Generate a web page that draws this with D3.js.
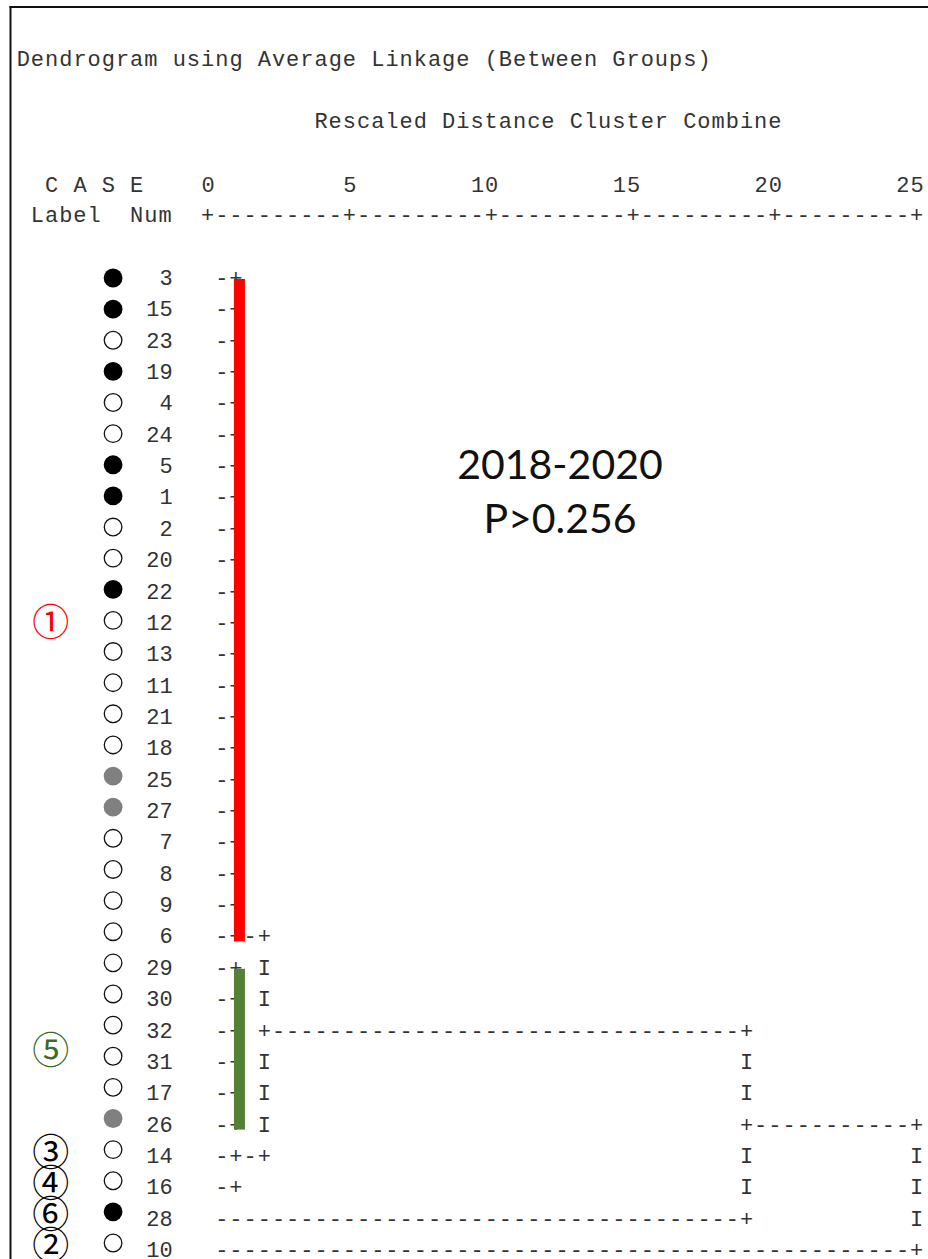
<!DOCTYPE html>
<html>
<head>
<meta charset="utf-8">
<script src="https://cdn.jsdelivr.net/npm/d3@7"></script>
<style>
  html, body { margin: 0; padding: 0; background: #fff; }
  svg { display: block; }
  .mono { font-family: "Liberation Mono", "Courier New", monospace; font-size: 22px; fill: #333; white-space: pre; }
</style>
</head>
<body>
<svg id="chart" width="928" height="1259"></svg>
<script>
// ---- data -------------------------------------------------------------
const titleText = "Dendrogram using Average Linkage (Between Groups)";
const axisTitle = "Rescaled Distance Cluster Combine";
const caseHeader = "C A S E";
const labelHeader = "Label";
const numHeader = "Num";
const distanceTicks = [0, 5, 10, 15, 20, 25];

// cases in dendrogram order, with their marker type
const cases = [3, 15, 23, 19, 4, 24, 5, 1, 2, 20, 22, 12, 13, 11, 21, 18, 25, 27, 7, 8, 9, 6,
               29, 30, 32, 31, 17, 26, 14, 16, 28, 10];
const caseType = ["black", "black", "open", "black", "open", "open", "black", "black", "open", "open", "black",
                  "open", "open", "open", "open", "open", "gray", "gray", "open", "open", "open", "open",
                  "open", "open", "open", "open", "open", "gray", "open", "open", "black", "open"];

// cluster merges: children are row indices (cases) or earlier cluster ids
const nodeIds = ["A", "B", "C", "D", "E", "F"];
const nodeDist = [1, 1, 1, 2, 19, 25];
const nodeChildren = [
  d3.range(0, 22),
  d3.range(22, 28),
  [28, 29],
  ["A", "B", "C"],
  ["D", 30],
  ["E", 31]
];
const nodeExitRow = [21, 24, 28, 24, 27, null];

// highlighted clusters
const barNodes = ["A", "B"];
const barColors = ["#ff0000", "#548235"];

// group labels beside the cases
const groupLabels = ["①", "⑤", "③", "④", "⑥", "②"];
const groupRows = [11, 24.75, 28, 29, 30, 31];
const groupColors = ["#ff0000", "#3d6b22", "#000", "#000", "#000", "#000"];

const periodText = "2018-2020";
const pText = "P>0.256";

// ---- layout -----------------------------------------------------------
const W = 928, H = 1259;
const colW = 14.18;            // width of one character column
const col0 = 201;              // left edge of column 0
const fontSize = 22;

const svg = d3.select("#chart");

// column index -> left edge
const colLeft = d3.scaleLinear().domain([0, 1]).range([col0, col0 + colW]);
const colCenter = c => colLeft(c + 0.5);
// rescaled distance -> column index, and -> x position
const distCol = d3.scaleLinear().domain([0, 25]).range([0, 50]);
const x = d3.scaleLinear().domain([0, 25]).range([colCenter(0), colCenter(50)]);
// row index -> text baseline, and -> marker centre
const rowY = d3.scaleLinear().domain([0, cases.length - 1]).range([285, 1257]);
const markY = d3.scaleLinear().domain([0, cases.length - 1]).range([278, 1243]);

const spacing = colW - 0.6 * fontSize;

function monoText(str, col, y, anchor) {
  return svg.append("text")
    .attr("class", "mono")
    .attr("x", anchor === "end" ? colLeft(col + 1) : colLeft(col))
    .attr("y", y)
    .attr("text-anchor", anchor || "start")
    .style("letter-spacing", spacing + "px")
    .text(str);
}

// frame
svg.append("line").attr("x1", 9.5).attr("x2", W).attr("y1", 7).attr("y2", 7)
  .attr("stroke", "#111").attr("stroke-width", 2);
svg.append("line").attr("x1", 10.5).attr("x2", 10.5).attr("y1", 6).attr("y2", H)
  .attr("stroke", "#111").attr("stroke-width", 2);

// headers
monoText(titleText, -13, 66);
monoText(axisTitle, 8, 128);
monoText(caseHeader, -11, 192);
monoText(labelHeader, -12, 222);
monoText(numHeader, -5, 222);

// distance tick labels (right-aligned on the tick column)
const axisG = svg.append("g").attr("transform", "translate(0,192)");
axisG.call(d3.axisTop(x).tickValues(distanceTicks).tickSize(0).tickPadding(0).tickFormat(d3.format("d")));
axisG.select(".domain").remove();
axisG.attr("font-family", null).attr("font-size", null);
axisG.selectAll("text")
  .attr("class", "mono")
  .attr("text-anchor", "end")
  .attr("x", colW / 2)
  .attr("dy", null)
  .style("letter-spacing", spacing + "px");

// ascii distance ruler
const tickCols = new Set(distanceTicks.map(d => Math.round(distCol(d))));
const ruler = d3.range(0, 51).map(c => tickCols.has(c) ? "+" : "-").join("");
monoText(ruler, 0, 222);

// ---- dendrogram as character grid ---------------------------------------
const nCols = 52;
const grid = cases.map(() => Array(nCols).fill(" "));
const exitInfo = new Map();   // id -> {row, col}
const childPos = ch => typeof ch === "number" ? { row: ch, col: 0, leaf: true } : { ...exitInfo.get(ch), leaf: false };

nodeIds.forEach((id, i) => {
  const c = Math.round(distCol(nodeDist[i]));
  const exit = nodeExitRow[i];
  const kids = nodeChildren[i].map(childPos);
  kids.forEach(k => {
    if (!k.leaf && k.row === exit) return;   // passes straight through the joint
    for (let cc = k.col + 1; cc < c; cc++) grid[k.row][cc] = "-";
    grid[k.row][c] = "+";
  });
  const rows = kids.map(k => k.row);
  for (let r = d3.min(rows); r <= d3.max(rows); r++) {
    if (grid[r][c] === " ") grid[r][c] = (r === exit) ? "+" : "I";
  }
  if (exit !== null) exitInfo.set(id, { row: exit, col: c });
});

// highlight bars over the tightest clusters
const bars = barNodes.map((id, i) => {
  const k = nodeIds.indexOf(id);
  const members = nodeChildren[k];
  const c = Math.round(distCol(nodeDist[k]));
  const top = rowY(d3.min(members)) - 6;
  const bottom = rowY(d3.max(members)) - 2;
  return { x: colCenter(c) - 2.5, y: top, h: bottom - top, color: barColors[i] };
});

svg.append("g").selectAll("text")
  .data(grid)
  .join("text")
  .attr("class", "mono")
  .attr("x", colLeft(0))
  .attr("y", (d, i) => rowY(i))
  .style("letter-spacing", spacing + "px")
  .text(d => d.join("").replace(/\s+$/, ""));

svg.append("g").selectAll("rect")
  .data(bars)
  .join("rect")
  .attr("x", d => d.x)
  .attr("y", d => d.y)
  .attr("width", 11)
  .attr("height", d => d.h)
  .attr("fill", d => d.color);

// case numbers
svg.append("g").selectAll("text")
  .data(cases)
  .join("text")
  .attr("class", "mono")
  .attr("x", colLeft(-2))
  .attr("y", (d, i) => rowY(i))
  .attr("text-anchor", "end")
  .text(d => d);

// case markers
const markerX = colLeft(-6.2);
svg.append("g").selectAll("circle")
  .data(caseType)
  .join("circle")
  .attr("cx", markerX)
  .attr("cy", (d, i) => markY(i))
  .attr("r", d => d === "open" ? 8.8 : 9.4)
  .attr("fill", d => d === "black" ? "#000" : d === "gray" ? "#808080" : "#fff")
  .attr("stroke", d => d === "open" ? "#111" : "none")
  .attr("stroke-width", 1.3);

// group labels
svg.append("g").selectAll("text")
  .data(groupLabels)
  .join("text")
  .attr("x", colLeft(-10.6))
  .attr("y", (d, i) => markY(groupRows[i]))
  .attr("text-anchor", "middle")
  .attr("dominant-baseline", "central")
  .attr("font-family", "'Noto Sans CJK JP', sans-serif")
  .attr("font-size", 37)
  .attr("fill", (d, i) => groupColors[i])
  .text(d => d);

// period annotation
svg.append("text")
  .attr("x", 560).attr("y", 479)
  .attr("text-anchor", "middle")
  .attr("font-family", "Lato, 'Open Sans', sans-serif")
  .attr("font-size", 41)
  .attr("fill", "#111")
  .text(periodText);
svg.append("text")
  .attr("x", 560).attr("y", 533)
  .attr("text-anchor", "middle")
  .attr("font-family", "Lato, 'Open Sans', sans-serif")
  .attr("font-size", 41)
  .attr("fill", "#111")
  .text(pText);
</script>
</body>
</html>
